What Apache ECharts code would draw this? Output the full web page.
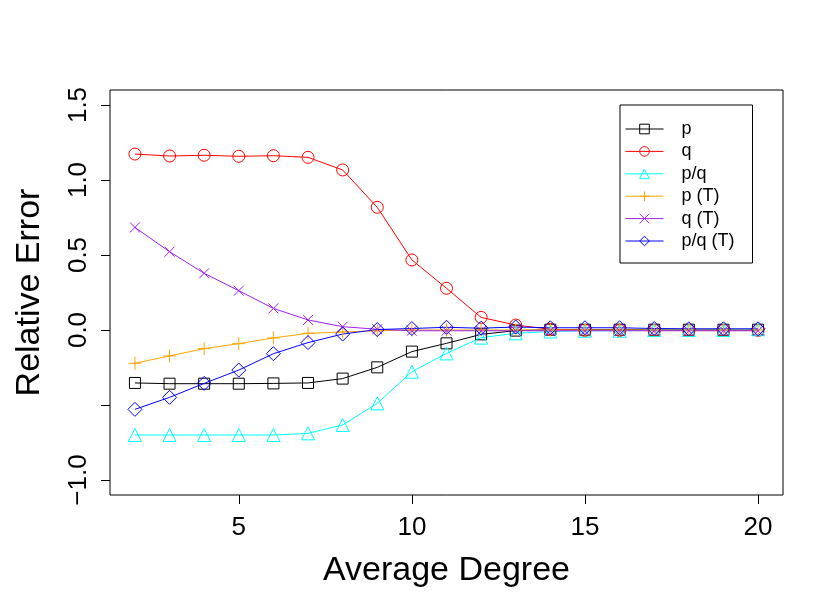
<!DOCTYPE html>
<html lang="en">
<head>
    <meta charset="UTF-8">
    <title>Relative Error</title>
    <script src="https://cdn.jsdelivr.net/npm/echarts@6/dist/echarts.min.js"></script>
</head>
<body style="margin:0;background:#fff;">
    <div id="chart" style="width: 830px; height: 609px;"></div>
    <script>
        const degree = [2, 3, 4, 5, 6, 7, 8, 9, 10, 11, 12, 13, 14, 15, 16, 17, 18, 19, 20];
        const pErr = [-0.353, -0.358, -0.358, -0.358, -0.356, -0.353, -0.324, -0.249, -0.144, -0.089, -0.029, -0.004, 0.002, 0.002, 0.002, 0.002, 0.002, 0.002, 0.002];
        const qErr = [1.173, 1.160, 1.165, 1.158, 1.162, 1.151, 1.067, 0.818, 0.467, 0.278, 0.084, 0.033, 0.005, -0.003, -0.003, -0.003, -0.003, -0.003, -0.003];
        const pqErr = [-0.700, -0.700, -0.700, -0.700, -0.700, -0.689, -0.633, -0.489, -0.278, -0.156, -0.051, -0.022, -0.010, -0.005, -0.005, 0.000, 0.000, 0.000, 0.005];
        const pTErr = [-0.222, -0.173, -0.124, -0.091, -0.053, -0.022, -0.013, -0.005, 0.000, 0.000, 0.000, 0.000, 0.000, 0.000, 0.000, 0.000, 0.000, 0.000, 0.000];
        const qTErr = [0.684, 0.522, 0.378, 0.262, 0.144, 0.067, 0.022, 0.005, -0.005, -0.005, -0.005, -0.005, -0.005, -0.005, -0.005, -0.005, -0.005, -0.005, -0.005];
        const pqTErr = [-0.529, -0.449, -0.356, -0.267, -0.158, -0.084, -0.027, 0.003, 0.010, 0.018, 0.012, 0.020, 0.015, 0.015, 0.015, 0.010, 0.008, 0.008, 0.008];
        const xTicks = [5, 10, 15, 20];
        const yTicks = [-1, -0.5, 0, 0.5, 1, 1.5];
        const yLabels = [-1, 0, 0.5, 1, 1.5]; // R drops the -0.5 label

        const font = 'Liberation Sans';
        const myChart = echarts.init(document.getElementById('chart'));

        // R pch symbols: 0 square, 1 circle, 2 triangle, 3 plus, 4 cross, 5 diamond
        const plus = 'path://M0,-1L0,1M-1,0L1,0';
        const cross = 'path://M-1,-1L1,1M-1,1L1,-1';
        const diamond = 'path://M0,-1L1,0L0,1L-1,0Z';

        function makeSeries(name, values, color, symbol, size) {
            return {
                name: name,
                type: 'line',
                data: degree.map((d, i) => [d, values[i]]),
                symbol: symbol,
                symbolSize: size,
                showAllSymbol: true,
                lineStyle: { color: color, width: 1 },
                itemStyle: { color: 'none', borderColor: color, borderWidth: 1 },
                emphasis: { disabled: true }
            };
        }

        const option = {
            animation: false,
            textStyle: { fontFamily: font, color: '#000' },
            grid: {
                left: 110, right: 47, top: 90, bottom: 114,
                show: true, borderColor: '#000', borderWidth: 1, backgroundColor: 'transparent'
            },
            legend: {
                orient: 'vertical',
                left: 620, top: 105,
                padding: [15, 18, 13, 5],
                itemWidth: 38, itemHeight: 12, itemGap: 4.4,
                borderColor: '#000', borderWidth: 1, borderRadius: 0,
                lineStyle: { width: 1 },
                itemStyle: { borderWidth: 1 },
                textStyle: { fontFamily: font, fontSize: 18, color: '#000', padding: [0, 0, 0, 13] },
                data: ['p', 'q', 'p/q', 'p (T)', 'q (T)', 'p/q (T)']
            },
            xAxis: {
                type: 'value',
                min: 1.28, max: 20.72,
                name: 'Average Degree',
                nameLocation: 'middle',
                nameGap: 59,
                nameTextStyle: { fontFamily: font, fontSize: 34, color: '#000' },
                axisLine: { show: false, onZero: false },
                axisTick: { show: true, length: 9, lineStyle: { color: '#000' }, customValues: xTicks },
                axisLabel: { fontSize: 26, color: '#000', margin: 20, customValues: xTicks },
                splitLine: { show: false }
            },
            yAxis: {
                type: 'value',
                min: -1.1, max: 1.6,
                name: 'Relative Error',
                nameLocation: 'middle',
                nameGap: 63,
                nameTextStyle: { fontFamily: font, fontSize: 34, color: '#000' },
                axisLine: { show: false, onZero: false },
                axisTick: { show: true, length: 9, lineStyle: { color: '#000' }, customValues: yTicks },
                axisLabel: {
                    fontSize: 26, color: '#000', margin: 18, rotate: 90,
                    customValues: yLabels,
                    formatter: v => (v < 0 ? '\u2212' : '') + Math.abs(v).toFixed(1)
                },
                splitLine: { show: false }
            },
            series: [
                makeSeries('p', pErr, '#000000', 'rect', 11),
                makeSeries('q', qErr, '#FF0000', 'circle', 12),
                makeSeries('p/q', pqErr, '#00FFFF', 'triangle', 13),
                makeSeries('p (T)', pTErr, '#FFA500', plus, 13),
                makeSeries('q (T)', qTErr, '#A020F0', cross, 10),
                makeSeries('p/q (T)', pqTErr, '#0000FF', diamond, 14)
            ]
        };
        myChart.setOption(option);
    </script>
</body>
</html>
